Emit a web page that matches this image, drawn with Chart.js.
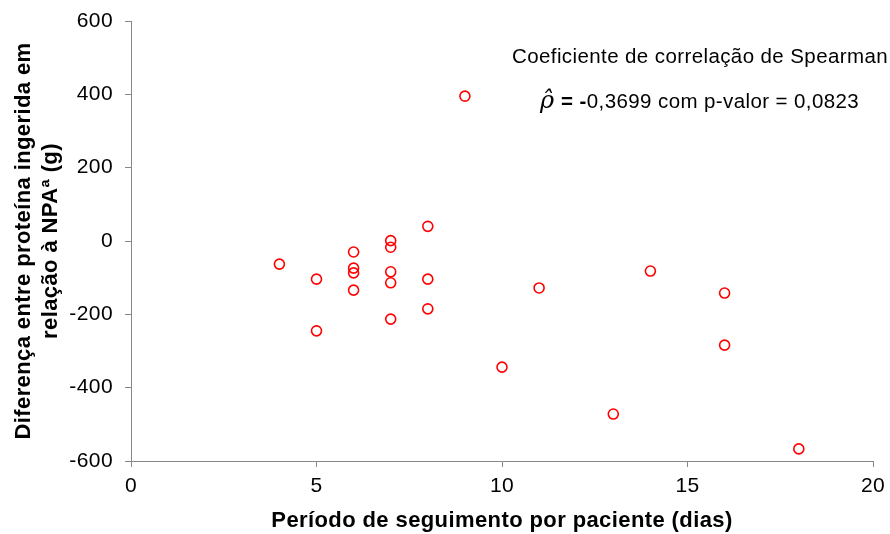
<!DOCTYPE html>
<html>
<head>
<meta charset="utf-8">
<script src="https://cdn.jsdelivr.net/npm/chart.js@4.4.1/dist/chart.umd.min.js"></script>
<style>
  html, body { margin: 0; padding: 0; background: #fff; }
  #wrap { width: 890px; height: 534px; }
</style>
</head>
<body>
<div id="wrap"><canvas id="c" width="890" height="534"></canvas></div>
<script>
// Follow-up period per patient (days)
const followUpDays = [4, 5, 5, 6, 6, 6, 6, 7, 7, 7, 7, 7, 8, 8, 8, 9, 10, 11, 13, 14, 16, 16, 18];
// Difference between ingested protein and protein requirement (g)
const proteinDiff = [-63, -104, -245, -30, -74, -87, -134, 1, -17, -84, -114, -213, 40, -104, -185, 395, -344, -128, -472, -82, -142, -284, -567];

const xTicks = [0, 5, 10, 15, 20];
const yTicks = [-600, -400, -200, 0, 200, 400, 600];

const corrTitle = 'Coeficiente de correlação de Spearman';
const corrValue = '-0,3699';
const pValue = '0,0823';

const FONT = '"Liberation Sans", Arial, sans-serif';
const AXIS_GREY = '#888888';
const SPACING = '0.4px';

const points = followUpDays.map((d, i) => ({ x: d, y: proteinDiff[i] }));

// Slightly wider letter spacing for all canvas text
const spacing = {
  id: 'spacing',
  beforeUpdate(chart) { chart.ctx.letterSpacing = SPACING; },
  beforeDraw(chart) { chart.ctx.letterSpacing = SPACING; }
};

// Spearman annotation in the upper right of the plot
const annotation = {
  id: 'annotation',
  afterDraw(chart) {
    const ctx = chart.ctx;
    ctx.save();
    ctx.letterSpacing = SPACING;
    ctx.fillStyle = '#000';
    ctx.textBaseline = 'alphabetic';
    ctx.textAlign = 'left';
    ctx.font = '20.5px ' + FONT;
    ctx.fillText(corrTitle, 512, 63);

    let x = 540;
    const y = 108;
    ctx.letterSpacing = '0px';
    ctx.font = 'italic 24px "DejaVu Serif", serif';
    const rho = 'ρ\u0302';
    ctx.fillText(rho, x, y);
    x += ctx.measureText(rho).width + 7;
    ctx.letterSpacing = SPACING;
    ctx.font = 'bold 20.5px ' + FONT;
    const eq = '= -';
    ctx.fillText(eq, x, y);
    x += ctx.measureText(eq).width;
    ctx.font = '20.5px ' + FONT;
    ctx.fillText(corrValue.replace('-', '') + ' com p-valor = ' + pValue, x, y);
    ctx.restore();
  }
};

new Chart(document.getElementById('c'), {
  type: 'scatter',
  data: {
    datasets: [{
      data: points,
      pointStyle: 'circle',
      pointRadius: 5,
      pointHoverRadius: 5,
      borderColor: '#ff0000',
      backgroundColor: 'rgba(255,255,255,0)',
      pointBorderWidth: 1.6
    }]
  },
  options: {
    responsive: false,
    animation: false,
    events: [],
    layout: { padding: { top: 21, right: 17, left: 0, bottom: 0 } },
    plugins: { legend: { display: false }, tooltip: { enabled: false } },
    scales: {
      x: {
        type: 'linear',
        min: 0, max: 20,
        afterBuildTicks(s) { s.ticks = xTicks.map(v => ({ value: v })); },
        afterFit(s) { s.height = 73; s.paddingLeft = 0; s.paddingRight = 0; },
        border: { color: AXIS_GREY, width: 1 },
        grid: { drawOnChartArea: false, drawTicks: true, tickLength: 6, color: AXIS_GREY },
        ticks: { color: '#000', font: { family: FONT, size: 21 }, padding: 7 },
        title: {
          display: true,
          text: 'Período de seguimento por paciente (dias)',
          color: '#000',
          font: { family: FONT, size: 22, weight: 'bold' },
          padding: { top: 0, bottom: 0 }
        }
      },
      y: {
        type: 'linear',
        min: -600, max: 600,
        afterBuildTicks(s) { s.ticks = yTicks.map(v => ({ value: v })); },
        afterFit(s) { s.width = 131; s.paddingTop = 0; s.paddingBottom = 0; },
        border: { color: AXIS_GREY, width: 1 },
        grid: { drawOnChartArea: false, drawTicks: true, tickLength: 6, color: AXIS_GREY },
        ticks: { color: '#000', font: { family: FONT, size: 21 }, padding: 12 },
        title: {
          display: true,
          text: ['Diferença entre proteína ingerida em', 'relação à NPAª (g)'],
          color: '#000',
          font: { family: FONT, size: 22, weight: 'bold', lineHeight: '27px' },
          padding: { top: 10, bottom: 0 }
        }
      }
    }
  },
  plugins: [spacing, annotation]
});
</script>
</body>
</html>
